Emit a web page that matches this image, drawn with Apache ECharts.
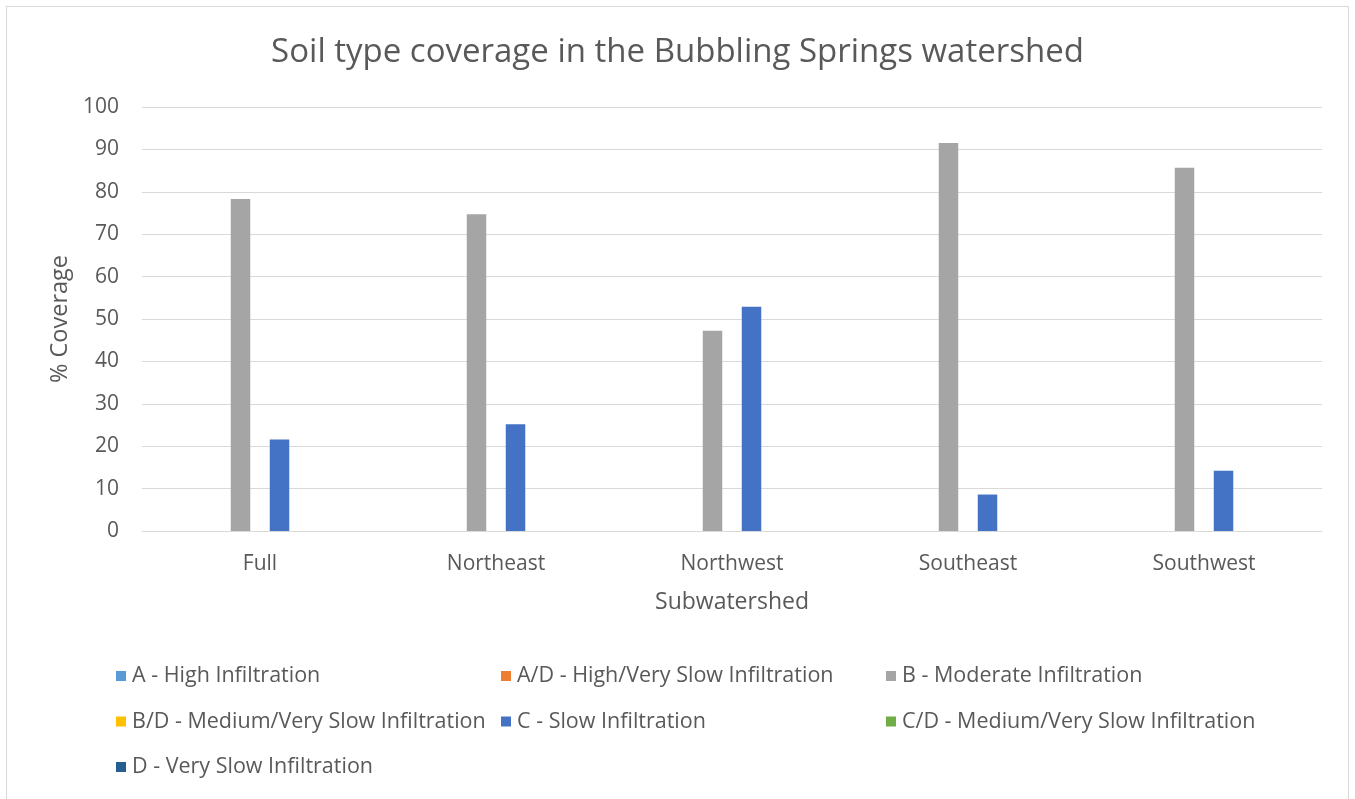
<!DOCTYPE html>
<html>
<head>
<meta charset="utf-8">
<script src="https://cdn.jsdelivr.net/npm/echarts@6/dist/echarts.min.js"></script>
<style>
html,body{margin:0;padding:0;background:#fff;}
#wrap{position:absolute;left:0;top:0;width:1355px;height:799px;}
#border{position:absolute;left:6px;top:6px;width:1343px;height:800px;border:1px solid #d9d9d9;box-sizing:border-box;pointer-events:none;}
#main{position:absolute;left:0;top:0;width:1355px;height:799px;}
</style>
</head>
<body>
<div id="wrap"><div id="main"></div><div id="border"></div></div>
<script>
const categories = ['Full', 'Northeast', 'Northwest', 'Southeast', 'Southwest'];
const seriesNames = [
  'A - High Infiltration',
  'A/D - High/Very Slow Infiltration',
  'B - Moderate Infiltration',
  'B/D - Medium/Very Slow Infiltration',
  'C - Slow Infiltration',
  'C/D - Medium/Very Slow Infiltration',
  'D - Very Slow Infiltration'
];
const valuesA  = [0, 0, 0, 0, 0];
const valuesAD = [0, 0, 0, 0, 0];
const valuesB  = [78.3, 74.7, 47.2, 91.5, 85.7];
const valuesBD = [0, 0, 0, 0, 0];
const valuesC  = [21.6, 25.2, 52.9, 8.6, 14.2];
const valuesCD = [0, 0, 0, 0, 0];
const valuesD  = [0, 0, 0, 0, 0];
const colors = ['#5b9bd5', '#ed7d31', '#a5a5a5', '#ffc000', '#4472c4', '#70ad47', '#255e91'];

const allValues = [valuesA, valuesAD, valuesB, valuesBD, valuesC, valuesCD, valuesD];
const FONT = '"Open Sans", sans-serif';
const TXT = '#595959';

const chart = echarts.init(document.getElementById('main'), null, {renderer: 'canvas'});

function legendCol(names, left) {
  return {
    orient: 'vertical',
    left: left,
    top: 660,
    itemWidth: 10,
    itemHeight: 10,
    itemGap: 23.5,
    icon: 'rect',
    selectedMode: false,
    data: names,
    textStyle: {color: TXT, fontFamily: FONT, fontSize: 21.5, lineHeight: 20, padding: [0, 0, 0, 1]}
  };
}

chart.setOption({
  animation: false,
  color: colors,
  title: {
    text: 'Soil type coverage in the Bubbling Springs watershed',
    left: 'center',
    top: 31,
    textStyle: {color: TXT, fontFamily: FONT, fontSize: 33, fontWeight: 'normal'}
  },
  legend: [
    legendCol([seriesNames[0], seriesNames[3], seriesNames[6]], 111),
    legendCol([seriesNames[1], seriesNames[4]], 496),
    legendCol([seriesNames[2], seriesNames[5]], 881)
  ],
  grid: {left: 142, right: 33, top: 107, bottom: 268, containLabel: false},
  xAxis: {
    type: 'category',
    data: categories,
    name: 'Subwatershed',
    nameLocation: 'middle',
    nameGap: 60,
    nameTextStyle: {color: TXT, fontFamily: FONT, fontSize: 23},
    axisLine: {lineStyle: {color: '#d9d9d9', width: 1}},
    axisTick: {show: false},
    axisLabel: {color: TXT, fontFamily: FONT, fontSize: 21, margin: 23},
    splitLine: {show: false}
  },
  yAxis: {
    type: 'value',
    min: 0,
    max: 100,
    interval: 10,
    name: '% Coverage',
    nameLocation: 'middle',
    nameRotate: 90,
    nameGap: 70,
    nameTextStyle: {color: TXT, fontFamily: FONT, fontSize: 23.5},
    axisLine: {show: false},
    axisTick: {show: false},
    axisLabel: {color: TXT, fontFamily: FONT, fontSize: 21, margin: 23},
    splitLine: {lineStyle: {color: '#d9d9d9', width: 1}}
  },
  series: seriesNames.map((n, i) => ({
    name: n,
    type: 'bar',
    data: allValues[i],
    barWidth: 19.5,
    barGap: '0%',
    itemStyle: {color: colors[i]}
  }))
});
</script>
</body>
</html>
